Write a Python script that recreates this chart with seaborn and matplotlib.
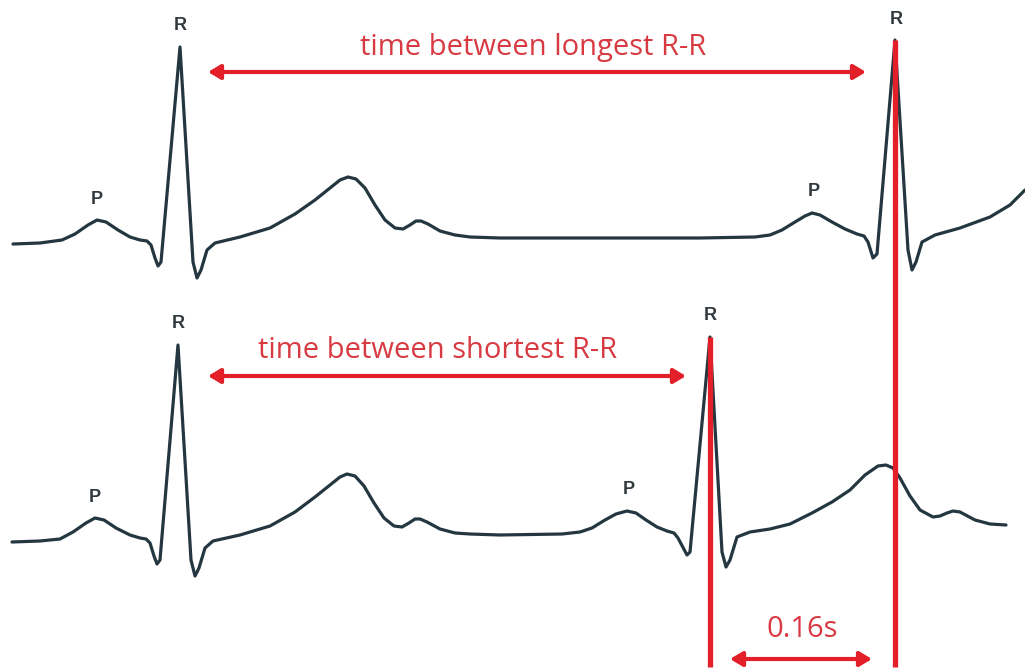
# -*- coding: utf-8 -*-
"""
ECG trace comparison: longest vs shortest R-R interval.
"""

import pandas as pd
import matplotlib.pyplot as plt
import seaborn as sns

# trace points (x, y), pixel-like units (y grows downward)
top_trace = [
    (13, 244), (40, 243), (62, 240), (75, 234), (88, 225), (97, 220), (106, 222),
    (118, 230), (130, 237), (140, 240), (147, 241), (151, 245), (155, 258),
    (158, 266), (161, 262), (180, 47), (193, 262), (197, 278), (201, 270),
    (207, 250), (215, 243), (240, 237), (270, 228), (295, 214), (315, 200),
    (330, 188), (340, 180), (348, 177), (356, 179), (365, 188), (375, 205),
    (385, 220), (395, 228), (403, 229), (410, 225), (416, 221), (421, 221),
    (428, 224), (440, 231), (455, 235), (470, 237), (500, 238), (600, 238),
    (700, 238), (755, 237), (770, 235), (782, 230), (795, 222), (805, 216),
    (812, 213), (820, 215), (832, 222), (845, 229), (857, 234), (864, 236),
    (868, 242), (873, 258), (877, 254), (895, 40), (908, 250), (912, 270),
    (916, 262), (922, 242), (935, 235), (960, 228), (990, 217), (1010, 205),
    (1025, 190),
]
bottom_trace = [
    (12, 542), (40, 541), (60, 539), (73, 532), (86, 523), (95, 518), (104, 520),
    (116, 528), (130, 535), (140, 538), (146, 539), (150, 543), (154, 556),
    (157, 564), (160, 560), (178, 345), (191, 560), (195, 576), (199, 568),
    (205, 548), (213, 541), (240, 535), (270, 526), (295, 512), (315, 497),
    (330, 485), (340, 477), (347, 474), (355, 476), (364, 486), (374, 503),
    (384, 518), (394, 526), (402, 527), (409, 523), (415, 519), (420, 519),
    (427, 522), (440, 529), (455, 533), (470, 534), (500, 535), (562, 534),
    (580, 532), (592, 528), (605, 520), (616, 514), (627, 511), (636, 513),
    (646, 520), (657, 527), (667, 531), (674, 533), (678, 538), (687, 555),
    (690, 552), (710, 337), (722, 552), (726, 567), (730, 560), (737, 537),
    (750, 532), (770, 529), (790, 524), (812, 513), (832, 502), (850, 490),
    (865, 475), (878, 466), (886, 465), (893, 468), (900, 478), (910, 496),
    (920, 510), (933, 517), (940, 516), (947, 513), (953, 511), (960, 512),
    (975, 520), (990, 524), (1006, 525),
]

# wave labels: (x, y, text)
wave_labels = [
    (180, 26, "R"), (97, 200, "P"), (896, 19, "R"), (814, 192, "P"),
    (178, 323, "R"), (95, 497, "P"), (710, 316, "R"), (629, 490, "P"),
]

# red annotations
interval_arrows = [((208, 72), (866, 72)), ((208, 376), (686, 376)), ((730, 659), (872, 659))]
interval_texts = [(533, 55, "time between longest R-R"),
                  (438, 358, "time between shortest R-R"),
                  (802, 637, "0.16s")]
marker_lines = [(895, 40, 667), (710, 337, 667)]

trace_color = "#243640"
red_line = "#e3202a"
red_text = "#d83a42"

rows = []
for name, pts in [("top", top_trace), ("bottom", bottom_trace)]:
    for i, (x, y) in enumerate(pts):
        rows.append({"trace": name, "order": i, "x": x, "y": y})
df = pd.DataFrame(rows)

sns.set_theme(style="white")
plt.rcParams["font.family"] = ["Open Sans", "DejaVu Sans"]

fig = plt.figure(figsize=(10.25, 6.71), dpi=100)
ax = fig.add_axes([0, 0, 1, 1])

sns.lineplot(data=df, x="x", y="y", units="trace", estimator=None, sort=False,
             color=trace_color, linewidth=2.3, ax=ax, legend=False)

# vertical red markers through the R peaks
for x, y0, y1 in marker_lines:
    ax.plot([x, x], [y0, y1], color=red_line, linewidth=3.8, solid_capstyle="butt", zorder=5)

for (x0, y0), (x1, y1) in interval_arrows:
    ax.annotate("", xy=(x0, y0), xytext=(x1, y1),
                arrowprops=dict(arrowstyle="<|-|>,head_length=0.6,head_width=0.36",
                                color=red_line, lw=3, shrinkA=0, shrinkB=0))

for x, y, s in interval_texts:
    ax.text(x, y, s, color=red_text, fontsize=21, ha="center", va="baseline")

for x, y, s in wave_labels:
    ax.text(x, y, s, color="#333a3e", fontsize=13, fontweight="bold",
            ha="center", va="center",
            family=["Liberation Sans Narrow", "Liberation Sans", "DejaVu Sans"])

ax.set_xlim(0, 1025)
ax.set_ylim(671, 0)
ax.axis("off")

fig.savefig("out.png", dpi=100, facecolor="white")
